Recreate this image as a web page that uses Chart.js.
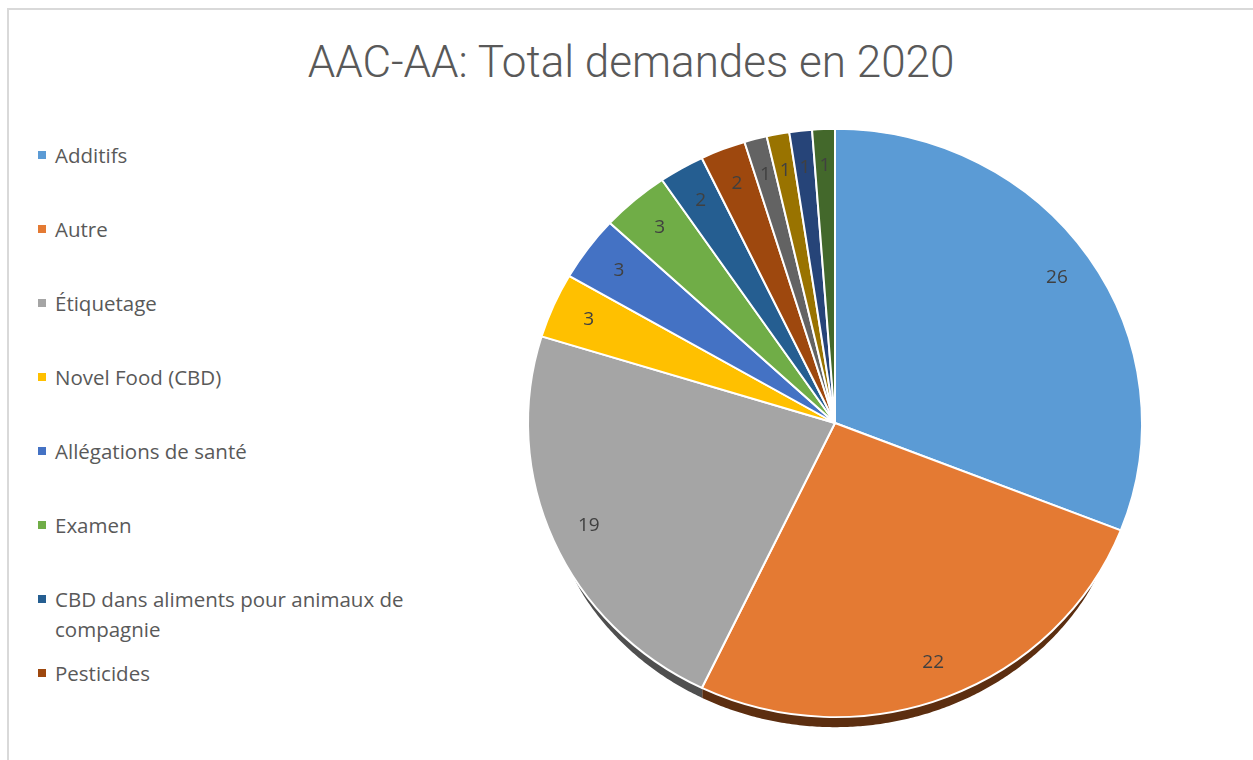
<!DOCTYPE html>
<html>
<head>
<meta charset="utf-8">
<script src="https://cdn.jsdelivr.net/npm/chart.js@4/dist/chart.umd.min.js"></script>
<style>
  html, body { margin: 0; padding: 0; background: #fff; }
  #wrap { position: relative; width: 1253px; height: 760px; overflow: hidden; }
  #frame { position: absolute; left: 7px; top: 8px; width: 1300px; height: 800px;
           border-left: 2px solid #d9d9d9; border-top: 2px solid #d9d9d9; box-sizing: border-box; }
  #title { position: absolute; left: 9px; right: 0; top: 30px; text-align: center;
           font-family: Roboto, "Open Sans", sans-serif; font-weight: 300; font-size: 44px;
           color: #595959; line-height: 64px; white-space: nowrap; }
  #legend { position: absolute; left: 0; top: 0; }
  .item { position: absolute; left: 38px; font-family: "Open Sans", sans-serif; font-size: 20.5px;
          color: #595959; line-height: 30px; width: 400px; }
  .item .sw { position: absolute; left: 0; top: 11px; width: 8px; height: 8px; }
  .item .tx { display: block; margin-left: 17px; }
  canvas { position: absolute; left: 0; top: 0; }
</style>
</head>
<body>
<div id="wrap">
  <div id="frame"></div>
  <div id="title">AAC-AA: Total demandes en 2020</div>
  <div id="legend"></div>
  <canvas id="c" width="1253" height="760"></canvas>
</div>
<script>
const categories = [
  "Additifs", "Autre", "Étiquetage", "Novel Food (CBD)", "Allégations de santé", "Examen",
  "CBD dans aliments pour animaux de compagnie", "Pesticides",
  "Catégorie 9", "Catégorie 10", "Catégorie 11", "Catégorie 12"
];
const values = [26, 22, 19, 3, 3, 3, 2, 2, 1, 1, 1, 1];
const colors = ["#5B9BD5", "#E47A33", "#A5A5A5", "#FFC000", "#4472C4", "#70AD47",
                "#255E91", "#9E480E", "#636363", "#997300", "#264478", "#43682B"];
const rimColors = ["#2F5576", "#5C2E10", "#4F4F4F", "#7A5A00", "#213A66", "#355425",
                   "#132F49", "#4A2207", "#333333", "#4A3800", "#13223C", "#213415"];
const legendShown = 8;

// HTML legend (reference only shows the first 8 entries)
const lg = document.getElementById('legend');
for (let i = 0; i < legendShown; i++) {
  const d = document.createElement('div');
  d.className = 'item';
  d.style.top = (155 + 74 * i - 15) + 'px';
  d.innerHTML = '<span class="sw" style="background:' + colors[i] + '"></span><span class="tx">' + categories[i] + '</span>';
  lg.appendChild(d);
}

const SY = 0.958;      // vertical squash (tilted pie look)
const RIM = 11;        // 3D rim depth

const tiltPlugin = {
  id: 'tilt',
  beforeDatasetsDraw(chart) {
    const meta = chart.getDatasetMeta(0);
    const ctx = chart.ctx;
    const a0 = meta.data[0];
    const cx = a0.x, cy = a0.y;
    const half = 59 * Math.PI / 180;
    const lo = Math.PI / 2 - half, hi = Math.PI / 2 + half;
    // rim (side of the tilted pie), visible on the lower front part, tapering at its ends
    meta.data.forEach((arc, i) => {
      const s = Math.max(arc.startAngle, lo), e = Math.min(arc.endAngle, hi);
      if (e <= s) return;
      const R = arc.outerRadius - 1;
      const n = Math.max(4, Math.ceil((e - s) * 120));
      const top = [], bot = [];
      for (let j = 0; j <= n; j++) {
        const t = s + (e - s) * j / n;
        const u = (t - Math.PI / 2) / half;
        const th = RIM * Math.sqrt(Math.max(0, 1 - u * u * u * u));
        const x = cx + R * Math.cos(t);
        const y = cy + R * Math.sin(t) * SY;
        top.push([x, y]);
        bot.push([x, y + th]);
      }
      ctx.save();
      ctx.beginPath();
      ctx.moveTo(top[0][0], top[0][1]);
      top.forEach(p => ctx.lineTo(p[0], p[1]));
      for (let j = bot.length - 1; j >= 0; j--) ctx.lineTo(bot[j][0], bot[j][1]);
      ctx.closePath();
      ctx.fillStyle = rimColors[i];
      ctx.fill();
      ctx.restore();
    });
    ctx.save();
    ctx.translate(cx, cy);
    ctx.scale(1, SY);
    ctx.translate(-cx, -cy);
  },
  afterDatasetsDraw(chart) {
    const ctx = chart.ctx;
    ctx.restore();
    const meta = chart.getDatasetMeta(0);
    ctx.save();
    ctx.font = '19px "Open Sans", sans-serif';
    ctx.fillStyle = '#404040';
    ctx.textAlign = 'center';
    ctx.textBaseline = 'middle';
    meta.data.forEach((arc, i) => {
      const mid = (arc.startAngle + arc.endAngle) / 2;
      const r = arc.outerRadius * 0.875;
      const x = arc.x + r * Math.cos(mid);
      const y = arc.y + r * Math.sin(mid) * SY;
      ctx.fillText(String(values[i]), x, y);
    });
    ctx.restore();
  }
};

new Chart(document.getElementById('c'), {
  type: 'pie',
  data: {
    labels: categories,
    datasets: [{
      data: values,
      backgroundColor: colors,
      borderColor: '#ffffff',
      borderWidth: 2
    }]
  },
  options: {
    responsive: false,
    animation: false,
    layout: { padding: { left: 527, right: 110, top: 115, bottom: 29 } },
    plugins: {
      legend: { display: false },
      title: { display: false },
      tooltip: { enabled: false }
    }
  },
  plugins: [tiltPlugin]
});
</script>
</body>
</html>
